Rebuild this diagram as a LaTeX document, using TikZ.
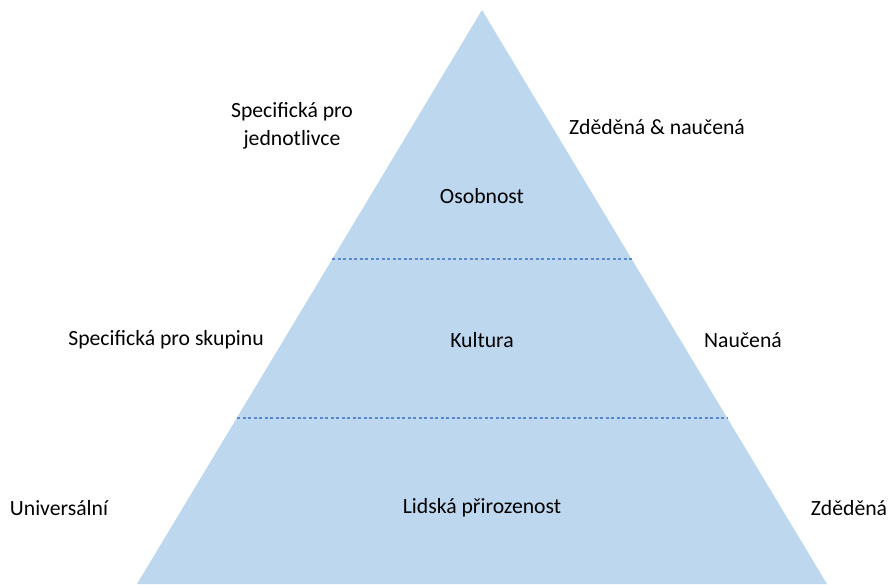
\documentclass[tikz,border=0pt]{standalone}
\usepackage{fontspec}
\setmainfont{Carlito}
\definecolor{pyrfill}{HTML}{BDD7EE}
\definecolor{dashblue}{HTML}{5B86D0}
\begin{document}
\begin{tikzpicture}[x=1pt,y=-1pt,
  lbl/.style={font=\fontsize{21.7}{27.5}\selectfont, align=center, inner sep=0pt},
  sep/.style={draw=dashblue, line width=1.2pt, dash pattern=on 3pt off 2.5pt}]
\useasboundingbox (0,0) rectangle (888,584);
\coordinate (apex) at (482,10);
\coordinate (bl) at (137,584);
\coordinate (br) at (827,584);
\fill[pyrfill] (apex) -- (br) -- (bl) -- cycle;
\coordinate (d1l) at (332,259);
\coordinate (d1r) at (632,259);
\coordinate (d2l) at (237,418);
\coordinate (d2r) at (727,418);
\draw[sep] (d1l) -- (d1r);
\draw[sep] (d2l) -- (d2r);
\node[lbl] (osob) at (482,196) {Osobnost};
\node[lbl] (kult) at (482,340) {Kultura};
\node[lbl] (lids) at (482,508) {Lidská přirozenost};
\node[lbl] (spj) at (292,126) {Specifická pro\\jednotlivce};
\node[lbl] (zdn) at (657,127) {Zděděná \& naučená};
\node[lbl] (sps) at (166,340) {Specifická pro skupinu};
\node[lbl] (nau) at (743,340) {Naučená};
\node[lbl] (uni) at (59,508) {Universální};
\node[lbl] (zde) at (849,508) {Zděděná};
\end{tikzpicture}
\end{document}
